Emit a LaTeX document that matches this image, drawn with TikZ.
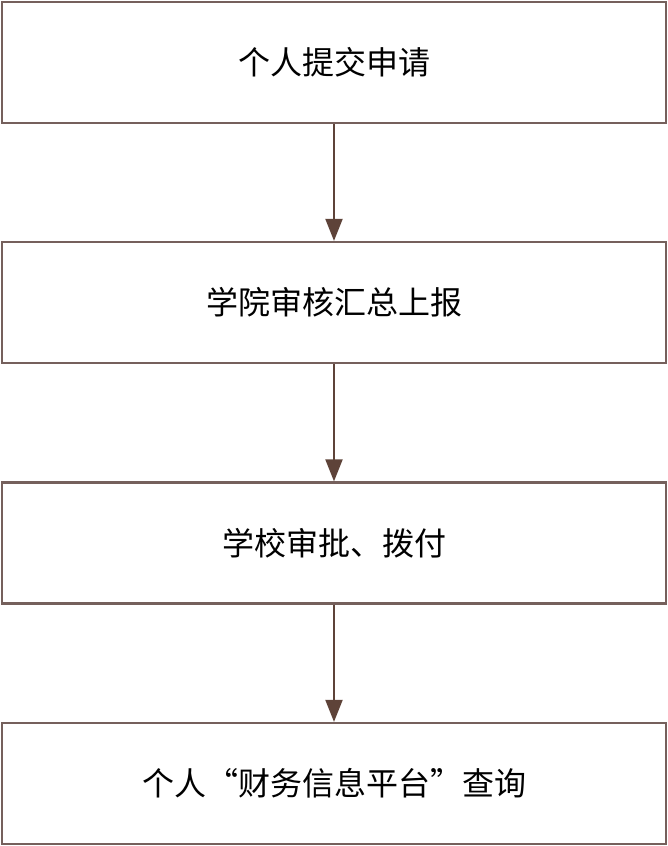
\documentclass[tikz,border=0pt]{standalone}
\usepackage{fontspec}
\setmainfont{Noto Sans CJK SC}
\newfontfamily\cjkfw[RawFeature=+fwid]{Noto Sans CJK SC}
\usetikzlibrary{arrows.meta}
\definecolor{boxline}{HTML}{75605C}
\definecolor{arrowline}{HTML}{5E4339}
\tikzset{
  stepbox/.style={draw=boxline, line width=2.2pt, minimum width=664pt, minimum height=121pt, inner sep=0pt, font=\fontsize{32}{38}\selectfont, text=black},
  flow/.style={draw=arrowline, line width=2pt, -{Triangle[length=22pt,width=17pt]}}
}
\begin{document}
\begin{tikzpicture}[x=1pt,y=1pt]
\useasboundingbox (0,0) rectangle (668,-846);
\node[stepbox] (a) at (334,-62.5) {个人提交申请};
\node[stepbox] (b) at (334,-302.5) {学院审核汇总上报};
\node[stepbox] (c) at (334,-543) {学校审批、拨付};
\node[stepbox] (d) at (334,-783.5) {个人{\cjkfw “}财务信息平台{\cjkfw ”}查询};
\draw[flow] (a) -- (b);
\draw[flow] (b) -- (c);
\draw[flow] (c) -- (d);
\end{tikzpicture}
\end{document}
